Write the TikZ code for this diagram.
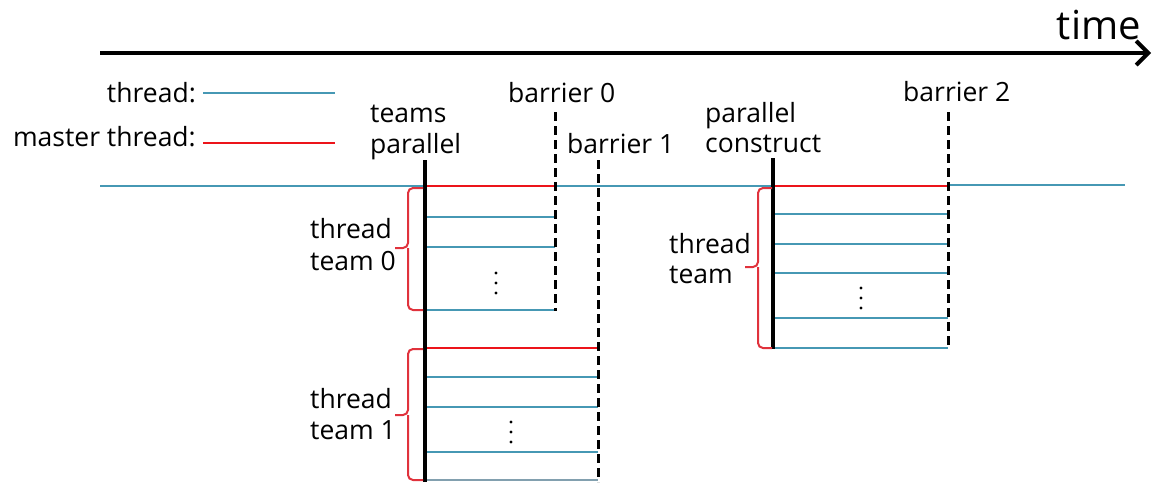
\documentclass[tikz,border=0pt]{standalone}
\usepackage{fontspec}
\setmainfont{Open Sans}
\usetikzlibrary{arrows.meta}
\definecolor{thr}{RGB}{70,152,180}
\definecolor{mst}{RGB}{236,20,26}
\definecolor{brc}{RGB}{224,50,60}
\definecolor{bot}{RGB}{130,160,175}
\tikzset{
  lbl/.style={inner sep=0pt,font=\fontsize{26.5}{31}\selectfont,anchor=base west},
  thrline/.style={draw=thr,line width=2.7pt},
  mstline/.style={draw=mst,line width=2.7pt},
  forkline/.style={draw=black,line width=3.2pt},
  barline/.style={draw=black,line width=3pt,dash pattern=on 9pt off 5pt},
  tbrace/.style={draw=brc,line width=2pt,rounded corners=5pt},
  dotc/.style={fill=black,draw=none}
}
\begin{document}
\begin{tikzpicture}[x=1pt,y=-1pt]
\useasboundingbox (0,0) rectangle (1153,482);
% time axis
\coordinate (ta) at (100,53);
\coordinate (tb) at (1151,53);
\draw[line width=4pt,-{Straight Barb[length=12pt,width=24pt,line width=4pt]}] (ta) -- (tb);
\node[inner sep=0pt,font=\fontsize{40}{44}\selectfont,anchor=base east] (time) at (1141,39) {time};
% legend
\node[lbl,anchor=base east] (lt) at (196,102) {thread:};
\node[lbl,anchor=base east] (lm) at (196,146) {master thread:};
\draw[thrline] (203,93) -- (335,93);
\draw[mstline] (203,143) -- (335,143);
% labels
\node[lbl] (tp1) at (370,122) {teams};
\node[lbl] (tp2) at (370,153) {parallel};
\node[lbl] (b0) at (508,102) {barrier 0};
\node[lbl] (b1) at (567,153) {barrier 1};
\node[lbl] (pc1) at (705,122) {parallel};
\node[lbl] (pc2) at (705,152) {construct};
\node[lbl] (b2) at (903,101) {barrier 2};
\node[lbl] (tt0a) at (310,238) {thread};
\node[lbl] (tt0b) at (310,270) {team 0};
\node[lbl] (tt1a) at (310,408) {thread};
\node[lbl] (tt1b) at (310,439) {team 1};
\node[lbl] (tta) at (669,253) {thread};
\node[lbl] (ttb) at (669,283) {team};
% main thread
\draw[thrline] (100,186) -- (425,186);
\draw[thrline] (555,186) -- (773,186);
\draw[thrline] (948,185) -- (1125,185);
% team 0
\draw[mstline] (425,186) -- (555,186);
\foreach \y in {217,247,310} \draw[thrline] (425,\y) -- (555,\y);
% team 1
\draw[mstline] (425,348) -- (598,348);
\foreach \y in {377,407,452} \draw[thrline] (425,\y) -- (598,\y);
\draw[draw=bot,line width=1.3pt] (425,480) -- (598,480);
% right team
\draw[mstline] (773,186) -- (948,186);
\foreach \y in {214,244,273,318,348} \draw[thrline] (773,\y) -- (948,\y);
% fork lines
\draw[forkline] (425,160) -- (425,482);
\draw[forkline] (773,158) -- (773,349);
% barriers
\draw[barline] (555,112) -- (555,311);
\draw[barline] (598,160) -- (598,482);
\draw[barline] (948,112) -- (948,349);
% dots
\foreach \y in {273,283,293} \fill[dotc] (496,\y) circle (1.7pt);
\foreach \y in {422,432,442} \fill[dotc] (511,\y) circle (1.7pt);
\foreach \y in {288,298,308} \fill[dotc] (861,\y) circle (1.7pt);
% braces
\draw[tbrace] (423,188) -| (408,248) -- (395,248);
\draw[tbrace] (423,310) -| (408,248);
\draw[tbrace] (423,349) -| (408,415) -- (395,415);
\draw[tbrace] (423,480) -| (408,415);
\draw[tbrace] (772,188) -| (758,267) -- (745,267);
\draw[tbrace] (772,348) -| (758,267);
\end{tikzpicture}
\end{document}
